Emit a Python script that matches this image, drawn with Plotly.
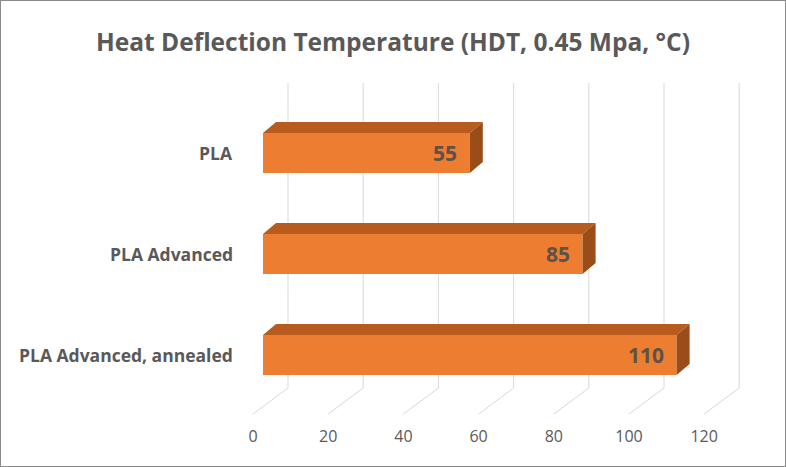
import plotly.graph_objects as go

# data
categories = ["PLA", "PLA Advanced", "PLA Advanced, annealed"]
values = [55, 85, 110]
tick_vals = [0, 20, 40, 60, 80, 100, 120]

W, H = 786, 467
px_per_unit = 3.76          # horizontal pixels per degree
px_per_row = 101            # vertical pixels between bars
x_front0 = 263              # pixel x of value 0 on the bar front plane
y_row0 = 153                # pixel y of first bar centre

bar_w = 0.396
dx, dy = 13 / px_per_unit, 11 / px_per_row       # bar depth
gx = 25 / px_per_unit                            # back wall offset
fx = -10 / px_per_unit                           # floor front offset
grid_top = (83 - y_row0) / px_per_row
grid_bot = (388 - y_row0) / px_per_row
floor_front = (414 - y_row0) / px_per_row
tick_y = (438 - y_row0) / px_per_row

idx = list(range(len(categories)))
font = "Open Sans"

fig = go.Figure()

# back wall gridlines + floor diagonals (kept below the bars)
for v in tick_vals:
    fig.add_shape(type="line", x0=v + gx, x1=v + gx, y0=grid_top, y1=grid_bot,
                  line=dict(color="#d9d9d9", width=1), layer="below")
    fig.add_shape(type="line", x0=v + gx, x1=v + fx, y0=grid_bot, y1=floor_front,
                  line=dict(color="#d9d9d9", width=1), layer="below")

# tick labels
fig.add_trace(go.Scatter(x=[v + fx for v in tick_vals], y=[tick_y] * len(tick_vals),
                         mode="text", text=[str(v) for v in tick_vals],
                         textfont=dict(family=font, size=16, color="#595959"),
                         hoverinfo="skip", showlegend=False))

# front faces
fig.add_trace(go.Bar(x=values, y=idx, orientation="h", width=bar_w,
                     marker=dict(color="#ED7D31", line=dict(width=0)),
                     hoverinfo="skip", showlegend=False))

# top and side faces
tx, ty, sx, sy = [], [], [], []
for i, v in zip(idx, values):
    top = i - bar_w / 2
    bot = i + bar_w / 2
    tx += [0, v, v + dx, dx, 0, None]
    ty += [top, top, top - dy, top - dy, top, None]
    sx += [v, v + dx, v + dx, v, v, None]
    sy += [top, top - dy, bot - dy, bot, top, None]
fig.add_trace(go.Scatter(x=tx, y=ty, mode="lines", fill="toself",
                         fillcolor="#B75B1E", line=dict(width=0, color="#B75B1E"),
                         hoverinfo="skip", showlegend=False))
fig.add_trace(go.Scatter(x=sx, y=sy, mode="lines", fill="toself",
                         fillcolor="#9A4D19", line=dict(width=0, color="#9A4D19"),
                         hoverinfo="skip", showlegend=False))

# category labels
for i, c in zip(idx, categories):
    fig.add_annotation(x=(235 - x_front0) / px_per_unit, y=i, text="<b>%s</b>" % c,
                       xanchor="right", yanchor="middle", showarrow=False,
                       font=dict(family=font, size=17.5, color="#595959"))

# value labels
for i, v in zip(idx, values):
    fig.add_annotation(x=v, y=i, text="<b>%d</b>" % v, xanchor="right", yanchor="middle",
                       xshift=-11, showarrow=False,
                       font=dict(family=font, size=21, color="#5e5147"))

fig.add_shape(type="rect", xref="paper", yref="paper", x0=0, y0=0, x1=1, y1=1,
              line=dict(color="#8a8a8a", width=2))

fig.update_layout(
    width=W, height=H,
    margin=dict(l=0, r=0, t=0, b=0),
    paper_bgcolor="white", plot_bgcolor="white",
    title=dict(text="<b>Heat Deflection Temperature (HDT, 0.45 Mpa, °C)</b>",
               x=0.5, xanchor="center", y=1 - 42 / H, yanchor="middle",
               font=dict(family=font, size=24.5, color="#595959")),
    xaxis=dict(range=[-x_front0 / px_per_unit, (W - x_front0) / px_per_unit],
               visible=False, fixedrange=True),
    yaxis=dict(range=[(H - y_row0) / px_per_row, -y_row0 / px_per_row],
               visible=False, fixedrange=True),
)

fig.write_html("out.html", config=dict(displayModeBar=False),
               post_script="document.body.style.margin='0';")
